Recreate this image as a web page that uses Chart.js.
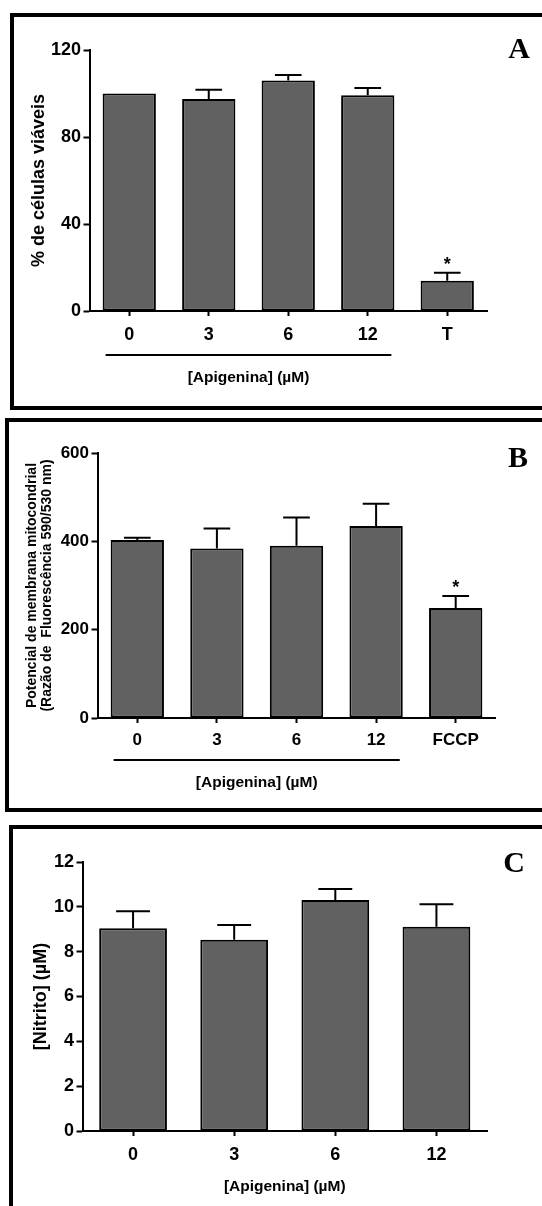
<!DOCTYPE html>
<html>
<head>
<meta charset="utf-8">
<script src="https://cdn.jsdelivr.net/npm/chart.js@4.4.0/dist/chart.umd.min.js"></script>
<style>
    html, body { margin: 0; padding: 0; background: #fff; }
    body { width: 542px; height: 1206px; position: relative; overflow: hidden; }
    .panel { position: absolute; border: 4px solid #000; border-right: none; box-sizing: border-box; width: 600px; }
    .wrap { position: absolute; left: 0; width: 542px; }
    .letter { position: absolute; font-family: "Liberation Serif", "Times New Roman", serif; font-weight: bold; font-size: 30px; line-height: 30px; transform: translateX(-50%); color: #000; }
</style>
</head>
<body>
<div class="panel" style="left:10px;top:13px;height:397px"></div>
<div class="panel" style="left:5px;top:418px;height:394px"></div>
<div class="panel" style="left:9px;top:825px;height:420px"></div>

<div class="wrap" style="top:0;height:410px"><canvas id="chart-viab"></canvas></div>
<div class="wrap" style="top:410px;height:410px"><canvas id="chart-mito"></canvas></div>
<div class="wrap" style="top:820px;height:386px"><canvas id="chart-nitrito"></canvas></div>

<div class="letter" style="left:519px;top:33px">A</div>
<div class="letter" style="left:518px;top:442px">B</div>
<div class="letter" style="left:514px;top:847px">C</div>

<script>
// painel A - viabilidade
const labelsA = ['0', '3', '6', '12', 'T'];
const viabA = [100, 97.5, 106, 99.2, 13.9];
const errA = [0, 4.2, 2.5, 3.3, 3.7];

// painel B - potencial de membrana
const labelsB = ['0', '3', '6', '12', 'FCCP'];
const mitoB = [403, 384, 390, 435, 249];
const errB = [5, 45, 64, 50, 27];

// painel C - nitrito
const labelsC = ['0', '3', '6', '12'];
const nitC = [9.05, 8.53, 10.3, 9.11];
const errC = [0.75, 0.66, 0.5, 1.0];

const FONT = '"Liberation Sans", Arial, sans-serif';
const BAR_FILL = '#616161';
const GROUP_TXT = '[Apigenina] (µM)';

// barras de erro (só para cima), asterisco e traço do grupo
const marksPlugin = {
    id: 'marks',
    afterDatasetsDraw(chart, args, opts) {
        const ctx = chart.ctx; const yS = chart.scales.y;
        const ds = chart.data.datasets[0]; const meta = chart.getDatasetMeta(0);
        ctx.save();
        ctx.strokeStyle = '#000'; ctx.fillStyle = '#000'; ctx.lineWidth = 2;
        meta.data.forEach((bar, i) => {
            const err = ds.errorPlus[i];
            if (!err) return;
            const top = yS.getPixelForValue(ds.data[i] + err);
            const half = bar.width / 4;
            ctx.beginPath();
            ctx.moveTo(bar.x, bar.y); ctx.lineTo(bar.x, top);
            ctx.moveTo(bar.x - half, top); ctx.lineTo(bar.x + half, top);
            ctx.stroke();
            if (opts.star === i) {
                ctx.font = 'bold 18px ' + FONT; ctx.textAlign = 'center'; ctx.textBaseline = 'alphabetic';
                ctx.fillText('*', bar.x, top - 13 + 10);
            }
        });
        if (opts.group) {
            const a = meta.data[opts.group.from], b = meta.data[opts.group.to];
            const x0 = a.x - a.width / 2 + 3, x1 = b.x + b.width / 2 - 3;
            const ly = chart.chartArea.bottom + opts.group.line;
            ctx.beginPath(); ctx.moveTo(x0, ly); ctx.lineTo(x1, ly); ctx.stroke();
            ctx.font = 'bold 15.5px ' + FONT; ctx.textAlign = 'center'; ctx.textBaseline = 'middle';
            ctx.fillText(GROUP_TXT, (x0 + x1) / 2, chart.chartArea.bottom + opts.group.text);
        }
        ctx.restore();
    }
};

function barChart(id, labels, values, errors, c) {
    const tickGrid = (len) => ({ offset: false, drawOnChartArea: false, drawTicks: true, tickLength: len, tickWidth: 2, color: '#000', tickColor: '#000' });
    return new Chart(document.getElementById(id), {
        type: 'bar',
        data: { labels: labels, datasets: [{ data: values, errorPlus: errors, backgroundColor: BAR_FILL, borderColor: '#000', borderWidth: 2, borderSkipped: false, barPercentage: 0.67, categoryPercentage: 1 }] },
        options: {
            responsive: true, maintainAspectRatio: false, animation: false,
            layout: { padding: { top: c.top, right: c.right, left: 0, bottom: 0 } },
            plugins: { legend: { display: false }, tooltip: { enabled: false }, marks: { star: c.star, group: c.group } },
            scales: {
                x: {
                    grid: tickGrid(5), border: { color: '#000', width: 2 },
                    ticks: { color: '#000', font: { family: FONT, size: c.tickSize, weight: 'bold' }, padding: c.xPad, maxRotation: 0, autoSkip: false },
                    title: c.xTitle ? { display: true, text: GROUP_TXT, color: '#000', font: { family: FONT, size: 15.5, weight: 'bold' }, padding: { top: 0, bottom: 9.7 } } : { display: false },
                    afterFit: s => { s.height = c.xHeight; }
                },
                y: {
                    min: 0, max: c.max,
                    grid: tickGrid(6), border: { color: '#000', width: 2 },
                    ticks: { stepSize: c.step, color: '#000', font: { family: FONT, size: c.tickSize, weight: 'bold' }, padding: 2.5 },
                    title: { display: true, text: c.yTitle, color: '#000', font: { family: FONT, size: c.yTitleSize, weight: 'bold', lineHeight: c.yTitleLH }, padding: { top: c.yTitlePad, bottom: 0 } },
                    afterFit: s => { s.width = c.yWidth; }
                }
            }
        },
        plugins: [marksPlugin]
    });
}

barChart('chart-viab', labelsA, viabA, errA, {
    top: 50, right: 55, yWidth: 89.5, xHeight: 99, max: 120, step: 40, tickSize: 18, xPad: 8,
    yTitle: '% de células viáveis', yTitleSize: 18, yTitleLH: 1.2, yTitlePad: 28,
    star: 4, group: { from: 0, to: 3, line: 44, text: 67 }
});

barChart('chart-mito', labelsB, mitoB, errB, {
    top: 43, right: 46.5, yWidth: 97.5, xHeight: 102, max: 600, step: 200, tickSize: 17, xPad: 7,
    yTitle: ['Potencial de membrana mitocondrial', '(Razão de  Fluorescência 590/530 nm)'], yTitleSize: 14, yTitleLH: 1.1, yTitlePad: 24.3,
    star: 4, group: { from: 0, to: 3, line: 42, text: 65 }
});

barChart('chart-nitrito', labelsC, nitC, errC, {
    top: 42, right: 55, yWidth: 82.5, xHeight: 75, max: 12, step: 2, tickSize: 18, xPad: 8,
    yTitle: '[Nitrito] (µM)', yTitleSize: 18, yTitleLH: 1.2, yTitlePad: 30,
    xTitle: true
});
</script>
</body>
</html>
